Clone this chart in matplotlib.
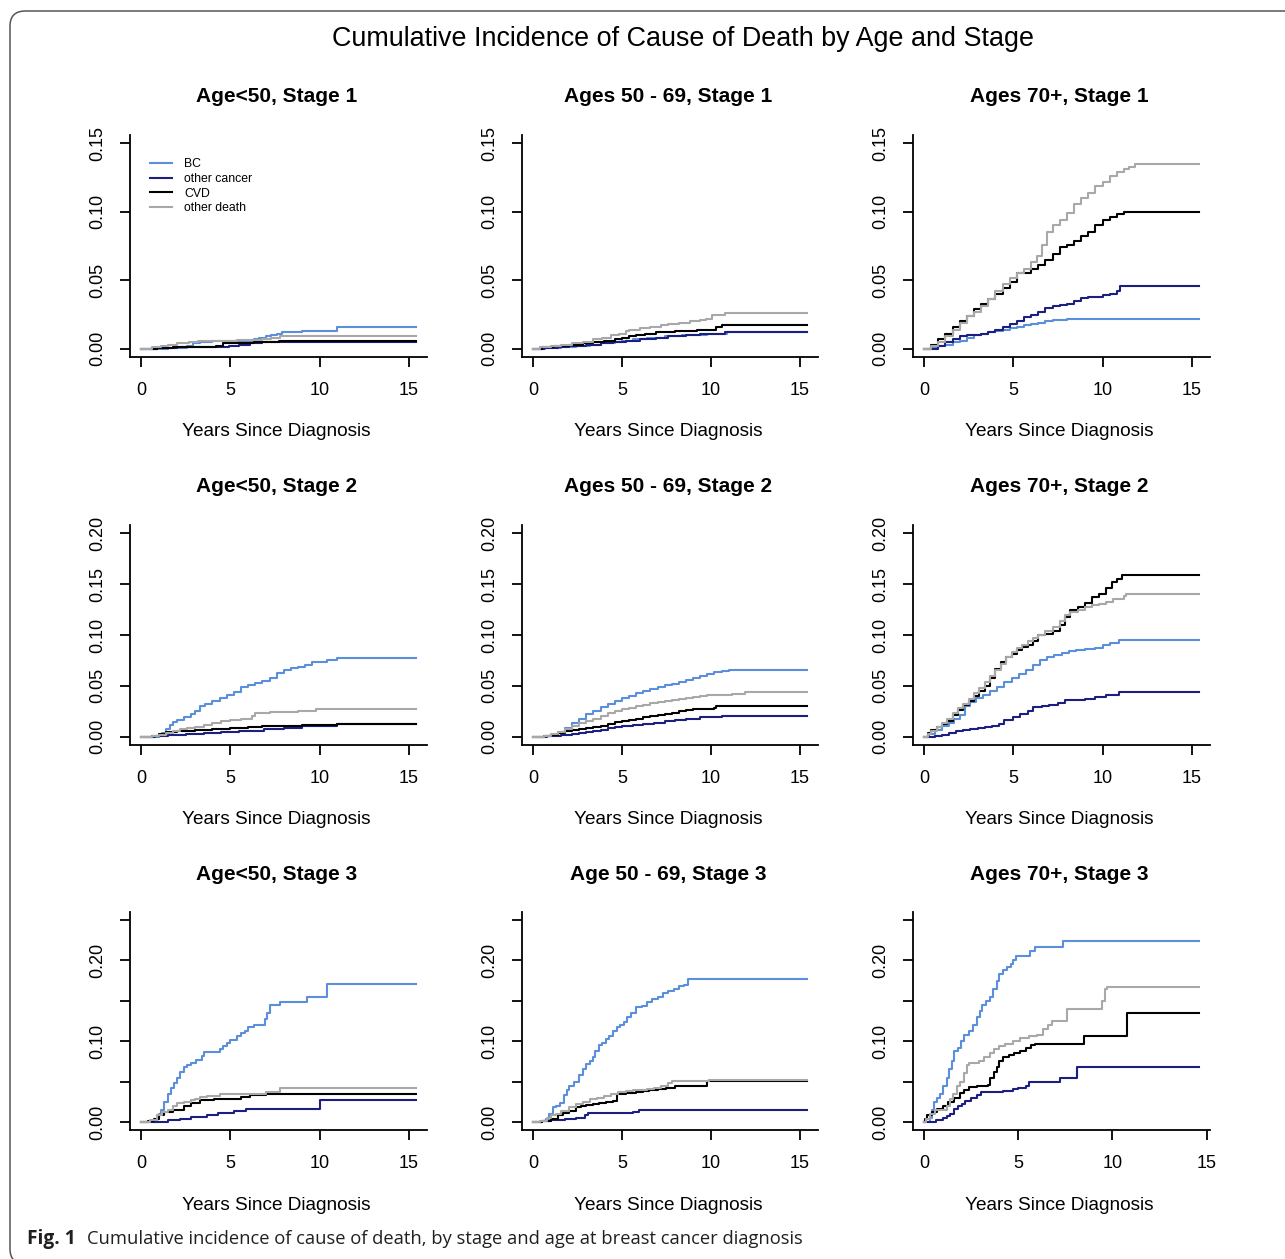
# %%
import matplotlib
matplotlib.use("Agg")
import matplotlib.pyplot as plt
from matplotlib.patches import FancyBboxPatch

# %% data: [years, cumulative incidence] step points
# Age<50, Stage 1
bc_u50_s1 = [[0, 0], [1.5, 0.0005], [2.6, 0.002], [2.9, 0.004], [3.3, 0.005], [4.0, 0.006], [6.3, 0.007],
             [6.6, 0.008], [7.0, 0.009], [7.3, 0.010], [7.6, 0.011], [7.9, 0.012], [9.0, 0.013], [11.0, 0.016]]
oc_u50_s1 = [[0, 0], [0.9, 0.0005], [2.0, 0.001], [4.3, 0.0015], [4.9, 0.002], [5.5, 0.003], [6.1, 0.004], [6.8, 0.005]]
cvd_u50_s1 = [[0, 0], [0.9, 0.0005], [1.8, 0.001], [3.0, 0.0015], [4.2, 0.002], [4.6, 0.004], [5.6, 0.0045],
              [6.3, 0.005], [7.7, 0.0055]]
od_u50_s1 = [[0, 0], [0.6, 0.001], [1.1, 0.002], [1.5, 0.003], [2.0, 0.004], [2.7, 0.005], [3.2, 0.0055],
             [4.7, 0.006], [5.4, 0.0065], [6.8, 0.007], [7.3, 0.008], [7.8, 0.009]]

# Ages 50 - 69, Stage 1
bc_50_s1 = [[0, 0], [0.7, 0.0005], [1.6, 0.001], [2.4, 0.002], [3.2, 0.003], [3.8, 0.004], [4.6, 0.005], [5.0, 0.006],
            [5.6, 0.007], [6.4, 0.008], [7.4, 0.009], [8.4, 0.010], [9.8, 0.011], [10.9, 0.012]]
oc_50_s1 = [[0, 0], [0.6, 0.0005], [1.4, 0.001], [2.0, 0.002], [3.0, 0.003], [3.8, 0.004], [4.5, 0.005], [5.2, 0.006],
            [6.0, 0.007], [6.9, 0.008], [7.6, 0.009], [8.6, 0.010], [9.4, 0.011], [10.8, 0.0125]]
cvd_50_s1 = [[0, 0], [0.5, 0.001], [1.2, 0.002], [2.0, 0.003], [2.8, 0.004], [3.4, 0.005], [4.0, 0.006], [4.6, 0.007],
             [5.0, 0.008], [5.4, 0.009], [5.8, 0.010], [6.3, 0.011], [6.9, 0.012], [8.0, 0.013], [9.2, 0.014],
             [10.3, 0.016], [10.6, 0.017]]
od_50_s1 = [[0, 0], [0.4, 0.001], [1.0, 0.002], [1.6, 0.003], [2.2, 0.004], [2.8, 0.005], [3.4, 0.007], [3.9, 0.008],
            [4.4, 0.010], [4.85, 0.011], [5.2, 0.013], [5.4, 0.014], [6.0, 0.015], [6.6, 0.016], [7.2, 0.017],
            [7.6, 0.018], [8.2, 0.019], [8.8, 0.020], [9.4, 0.021], [9.7, 0.022], [10.05, 0.025], [10.8, 0.026]]

# Ages 70+, Stage 1
bc_70_s1 = [[0, 0], [0.4, 0.001], [0.8, 0.002], [1.2, 0.003], [1.6, 0.005], [2.0, 0.006], [2.4, 0.008], [2.8, 0.010],
            [3.2, 0.011], [3.6, 0.012], [4.0, 0.013], [4.4, 0.014], [4.8, 0.015], [5.2, 0.016], [5.6, 0.017],
            [6.0, 0.018], [6.4, 0.019], [6.8, 0.020], [7.2, 0.021], [8.0, 0.0215], [8.7, 0.022]]
oc_70_s1 = [[0, 0], [0.8, 0.002], [1.2, 0.005], [1.6, 0.007], [2.0, 0.009], [2.4, 0.010], [3.2, 0.011], [3.6, 0.012],
            [4.0, 0.014], [4.4, 0.016], [4.8, 0.018], [5.2, 0.020], [5.6, 0.023], [6.0, 0.025], [6.4, 0.027],
            [6.8, 0.030], [7.2, 0.031], [7.6, 0.032], [8.0, 0.033], [8.4, 0.035], [8.8, 0.037], [9.2, 0.038],
            [10.0, 0.039], [10.4, 0.040], [10.8, 0.042], [10.95, 0.046]]
cvd_70_s1 = [[0, 0], [0.4, 0.003], [0.8, 0.007], [1.2, 0.011], [1.6, 0.016], [2.0, 0.020], [2.4, 0.024], [2.8, 0.029],
             [3.2, 0.033], [3.6, 0.036], [4.0, 0.040], [4.4, 0.044], [4.8, 0.049], [5.2, 0.055], [6.0, 0.058],
             [6.4, 0.061], [6.8, 0.065], [7.2, 0.069], [7.6, 0.074], [8.0, 0.076], [8.4, 0.079], [8.8, 0.082],
             [9.2, 0.085], [9.6, 0.090], [10.0, 0.094], [10.4, 0.096], [10.8, 0.098], [11.2, 0.100]]
od_70_s1 = [[0, 0], [0.4, 0.002], [0.8, 0.005], [1.2, 0.009], [1.6, 0.014], [2.0, 0.019], [2.4, 0.024], [2.8, 0.027],
            [3.2, 0.031], [3.6, 0.036], [4.0, 0.042], [4.4, 0.047], [4.8, 0.052], [5.2, 0.055], [5.6, 0.058],
            [6.0, 0.063], [6.3, 0.068], [6.6, 0.076], [6.9, 0.085], [7.2, 0.090], [7.6, 0.094], [8.0, 0.099],
            [8.4, 0.106], [8.8, 0.110], [9.2, 0.114], [9.6, 0.119], [10.0, 0.122], [10.4, 0.126], [10.8, 0.129],
            [11.2, 0.131], [11.5, 0.133], [11.8, 0.135]]

# Age<50, Stage 2
bc_u50_s2 = [[0, 0], [1.0, 0.001], [1.2, 0.004], [1.4, 0.008], [1.6, 0.012], [1.8, 0.015], [2.0, 0.017], [2.4, 0.019],
             [2.8, 0.022], [3.0, 0.025], [3.3, 0.030], [3.6, 0.032], [4.0, 0.035], [4.4, 0.038], [4.8, 0.041],
             [5.2, 0.044], [5.6, 0.049], [6.0, 0.051], [6.4, 0.053], [6.8, 0.055], [7.2, 0.058], [7.6, 0.063],
             [8.0, 0.066], [8.4, 0.068], [8.8, 0.069], [9.2, 0.071], [9.6, 0.073], [10.4, 0.075], [11.0, 0.077]]
oc_u50_s2 = [[0, 0], [0.8, 0.001], [1.5, 0.002], [2.5, 0.003], [3.5, 0.004], [4.5, 0.005], [5.5, 0.006], [6.9, 0.008],
             [8.0, 0.009], [9.0, 0.011], [11.0, 0.0125]]
cvd_u50_s2 = [[0, 0], [0.6, 0.001], [1.0, 0.003], [1.4, 0.005], [2.0, 0.006], [3.0, 0.007], [4.0, 0.008], [5.0, 0.009],
              [6.0, 0.010], [6.8, 0.011], [9.0, 0.012], [11.0, 0.013]]
od_u50_s2 = [[0, 0], [0.6, 0.001], [1.0, 0.002], [1.4, 0.004], [1.8, 0.006], [2.2, 0.008], [2.6, 0.009], [3.0, 0.010],
             [3.5, 0.012], [4.0, 0.014], [4.5, 0.016], [5.0, 0.017], [5.6, 0.018], [6.2, 0.020], [6.4, 0.023],
             [7.2, 0.024], [8.8, 0.025], [9.8, 0.027]]

# Ages 50 - 69, Stage 2
bc_50_s2 = [[0, 0], [0.6, 0.001], [1.0, 0.002], [1.4, 0.005], [1.8, 0.009], [2.2, 0.014], [2.6, 0.018], [3.0, 0.022],
            [3.4, 0.025], [3.8, 0.029], [4.2, 0.032], [4.6, 0.035], [5.0, 0.038], [5.4, 0.040], [5.8, 0.043],
            [6.2, 0.045], [6.6, 0.047], [7.0, 0.049], [7.4, 0.051], [7.8, 0.052], [8.2, 0.054], [8.6, 0.056],
            [9.0, 0.058], [9.4, 0.060], [9.8, 0.062], [10.2, 0.064], [10.6, 0.065], [11.0, 0.066]]
oc_50_s2 = [[0, 0], [0.8, 0.001], [1.6, 0.002], [2.2, 0.003], [2.6, 0.004], [3.0, 0.005], [3.4, 0.006], [3.8, 0.007],
            [4.2, 0.009], [4.6, 0.010], [5.0, 0.011], [5.6, 0.012], [6.2, 0.013], [6.8, 0.014], [7.4, 0.016],
            [8.0, 0.017], [8.6, 0.018], [9.4, 0.019], [10.6, 0.020]]
cvd_50_s2 = [[0, 0], [0.6, 0.001], [1.0, 0.002], [1.4, 0.004], [1.8, 0.006], [2.2, 0.007], [2.6, 0.008], [3.0, 0.009],
             [3.4, 0.010], [3.8, 0.011], [4.2, 0.013], [4.6, 0.015], [5.0, 0.016], [5.4, 0.017], [5.8, 0.018],
             [6.2, 0.019], [6.6, 0.020], [7.0, 0.021], [7.4, 0.022], [7.8, 0.023], [8.2, 0.025], [8.6, 0.026],
             [9.0, 0.027], [10.2, 0.028], [10.3, 0.030]]
od_50_s2 = [[0, 0], [0.6, 0.001], [1.0, 0.003], [1.4, 0.005], [1.8, 0.008], [2.2, 0.011], [2.6, 0.014], [3.0, 0.016],
            [3.4, 0.018], [3.8, 0.020], [4.2, 0.023], [4.6, 0.025], [5.0, 0.027], [5.4, 0.028], [5.8, 0.030],
            [6.2, 0.031], [6.6, 0.033], [7.0, 0.034], [7.4, 0.035], [7.8, 0.036], [8.2, 0.037], [8.6, 0.038],
            [9.0, 0.039], [9.4, 0.040], [9.8, 0.041], [11.2, 0.042], [11.9, 0.044]]

# Ages 70+, Stage 2
bc_70_s2 = [[0, 0], [0.3, 0.003], [0.6, 0.007], [1.0, 0.011], [1.4, 0.014], [1.7, 0.018], [2.0, 0.021], [2.3, 0.030],
            [2.6, 0.034], [2.9, 0.038], [3.3, 0.041], [3.7, 0.045], [4.1, 0.049], [4.5, 0.054], [4.9, 0.058],
            [5.3, 0.062], [5.7, 0.066], [6.1, 0.071], [6.5, 0.075], [6.9, 0.078], [7.3, 0.080], [7.7, 0.082],
            [8.1, 0.084], [8.5, 0.085], [9.0, 0.086], [9.6, 0.087], [10.0, 0.090], [10.4, 0.092], [10.9, 0.095]]
oc_70_s2 = [[0, 0], [0.6, 0.001], [1.0, 0.002], [1.4, 0.004], [1.8, 0.006], [2.2, 0.007], [2.6, 0.008], [3.0, 0.009],
            [3.4, 0.010], [3.8, 0.011], [4.2, 0.013], [4.5, 0.017], [5.0, 0.019], [5.4, 0.022], [5.8, 0.025],
            [6.1, 0.029], [6.6, 0.030], [7.0, 0.031], [7.5, 0.033], [7.9, 0.036], [9.0, 0.037], [9.6, 0.039],
            [10.2, 0.041], [10.9, 0.044]]
cvd_70_s2 = [[0, 0], [0.2, 0.004], [0.4, 0.007], [0.7, 0.010], [1.0, 0.013], [1.3, 0.016], [1.6, 0.021], [1.9, 0.026],
             [2.2, 0.031], [2.5, 0.035], [2.8, 0.040], [3.1, 0.045], [3.4, 0.050], [3.7, 0.058], [4.0, 0.067],
             [4.3, 0.073], [4.6, 0.078], [4.9, 0.081], [5.2, 0.085], [5.5, 0.088], [5.8, 0.090], [6.1, 0.094],
             [6.4, 0.100], [6.8, 0.101], [7.2, 0.104], [7.6, 0.110], [7.9, 0.118], [8.2, 0.125], [8.6, 0.127],
             [9.0, 0.131], [9.4, 0.137], [9.8, 0.140], [10.2, 0.146], [10.5, 0.152], [10.8, 0.155], [11.1, 0.159]]
od_70_s2 = [[0, 0], [0.2, 0.003], [0.4, 0.006], [0.7, 0.010], [1.0, 0.014], [1.3, 0.018], [1.6, 0.023], [1.9, 0.028],
            [2.2, 0.032], [2.5, 0.037], [2.8, 0.043], [3.1, 0.048], [3.4, 0.054], [3.7, 0.060], [4.0, 0.066],
            [4.3, 0.072], [4.6, 0.078], [4.9, 0.083], [5.2, 0.087], [5.5, 0.090], [5.8, 0.094], [6.1, 0.097],
            [6.4, 0.100], [6.8, 0.104], [7.2, 0.108], [7.6, 0.114], [7.9, 0.120], [8.2, 0.123], [8.6, 0.125],
            [9.0, 0.127], [9.4, 0.129], [9.8, 0.130], [10.2, 0.132], [10.6, 0.135], [11.2, 0.138], [11.3, 0.140]]

# Age<50, Stage 3
bc_u50_s3 = [[0, 0], [0.9, 0.004], [1.0, 0.010], [1.1, 0.015], [1.3, 0.025], [1.5, 0.035], [1.7, 0.042], [1.85, 0.048],
             [2.0, 0.055], [2.2, 0.062], [2.4, 0.068], [2.6, 0.071], [2.8, 0.073], [3.1, 0.077], [3.4, 0.082],
             [3.5, 0.086], [4.4, 0.090], [4.6, 0.094], [4.8, 0.098], [5.0, 0.102], [5.4, 0.106], [5.6, 0.110],
             [5.8, 0.113], [6.0, 0.117], [6.3, 0.120], [6.95, 0.128], [7.05, 0.135], [7.2, 0.145], [7.8, 0.149],
             [9.3, 0.155], [10.4, 0.171]]
oc_u50_s3 = [[0, 0], [0.6, 0.0005], [1.5, 0.002], [2.2, 0.004], [2.8, 0.006], [3.7, 0.008], [4.3, 0.011],
             [5.2, 0.013], [5.9, 0.016], [10.0, 0.027]]
cvd_u50_s3 = [[0, 0], [0.4, 0.001], [0.7, 0.004], [1.0, 0.008], [1.3, 0.012], [1.8, 0.015], [2.4, 0.020], [2.8, 0.024],
              [3.3, 0.027], [4.1, 0.028], [4.8, 0.029], [5.6, 0.031], [6.1, 0.033], [7.0, 0.034]]
od_u50_s3 = [[0, 0], [0.5, 0.002], [0.9, 0.008], [1.2, 0.012], [1.5, 0.015], [1.8, 0.020], [2.0, 0.023], [2.4, 0.025],
             [2.8, 0.027], [3.0, 0.029], [3.3, 0.031], [3.7, 0.032], [4.4, 0.034], [6.0, 0.035], [7.0, 0.037],
             [7.8, 0.042]]

# Age 50 - 69, Stage 3
bc_50_s3 = [[0, 0], [0.5, 0.001], [0.75, 0.004], [0.9, 0.010], [1.1, 0.018], [1.3, 0.020], [1.5, 0.024], [1.75, 0.033],
            [1.9, 0.040], [2.05, 0.045], [2.3, 0.050], [2.6, 0.058], [2.8, 0.065], [3.0, 0.072], [3.2, 0.076],
            [3.35, 0.081], [3.5, 0.088], [3.7, 0.095], [3.9, 0.098], [4.1, 0.103], [4.3, 0.107], [4.5, 0.113],
            [4.7, 0.117], [4.9, 0.120], [5.1, 0.124], [5.3, 0.130], [5.5, 0.135], [5.8, 0.142], [6.1, 0.144],
            [6.4, 0.148], [6.7, 0.152], [7.0, 0.155], [7.3, 0.160], [7.6, 0.162], [7.9, 0.165], [8.2, 0.168],
            [8.5, 0.170], [8.7, 0.177]]
oc_50_s3 = [[0, 0], [0.5, 0.001], [1.0, 0.003], [1.8, 0.004], [2.4, 0.005], [2.9, 0.008], [3.1, 0.011], [5.6, 0.012],
            [5.95, 0.015]]
cvd_50_s3 = [[0, 0], [0.5, 0.001], [1.0, 0.004], [1.4, 0.008], [1.7, 0.011], [2.0, 0.014], [2.4, 0.018], [2.7, 0.020],
             [3.0, 0.021], [3.4, 0.022], [3.7, 0.024], [4.1, 0.025], [4.5, 0.026], [4.75, 0.035], [5.2, 0.036],
             [5.8, 0.037], [6.2, 0.038], [6.5, 0.040], [7.0, 0.041], [7.5, 0.042], [8.0, 0.044], [9.8, 0.051]]
od_50_s3 = [[0, 0], [0.4, 0.001], [0.8, 0.005], [1.0, 0.008], [1.3, 0.010], [1.6, 0.014], [2.0, 0.018], [2.4, 0.022],
            [2.8, 0.025], [3.2, 0.028], [3.6, 0.030], [4.0, 0.032], [4.4, 0.035], [4.8, 0.037], [5.2, 0.038],
            [5.6, 0.039], [6.0, 0.040], [6.4, 0.041], [6.8, 0.042], [7.2, 0.045], [7.6, 0.048], [7.8, 0.051],
            [9.9, 0.052]]

# Ages 70+, Stage 3
bc_70_s3 = [[0, 0], [0.3, 0.005], [0.45, 0.015], [0.55, 0.025], [0.7, 0.030], [0.85, 0.035], [1.0, 0.045],
            [1.2, 0.055], [1.35, 0.065], [1.5, 0.075], [1.6, 0.088], [1.8, 0.092], [1.95, 0.100], [2.15, 0.108],
            [2.4, 0.112], [2.6, 0.120], [2.8, 0.130], [2.95, 0.138], [3.1, 0.145], [3.3, 0.150], [3.5, 0.155],
            [3.65, 0.165], [3.85, 0.175], [4.0, 0.183], [4.2, 0.188], [4.4, 0.192], [4.6, 0.195], [4.75, 0.200],
            [4.9, 0.205], [5.65, 0.212], [5.9, 0.217], [7.4, 0.224]]
oc_70_s3 = [[0, 0], [0.65, 0.003], [1.0, 0.005], [1.2, 0.007], [1.4, 0.010], [1.6, 0.016], [1.8, 0.020], [2.0, 0.022],
            [2.2, 0.026], [2.5, 0.030], [2.8, 0.033], [3.0, 0.037], [4.2, 0.038], [4.7, 0.041], [5.0, 0.042],
            [5.4, 0.044], [5.6, 0.050], [7.2, 0.054], [8.1, 0.068]]
cvd_70_s3 = [[0, 0], [0.05, 0.004], [0.15, 0.008], [0.4, 0.012], [0.7, 0.016], [1.0, 0.020], [1.3, 0.025],
             [1.6, 0.030], [1.9, 0.036], [2.1, 0.040], [2.4, 0.043], [2.8, 0.045], [3.4, 0.046], [3.5, 0.055],
             [3.7, 0.062], [3.85, 0.068], [4.0, 0.075], [4.2, 0.080], [4.5, 0.083], [4.8, 0.085], [5.1, 0.088],
             [5.4, 0.091], [5.7, 0.095], [5.9, 0.097], [8.5, 0.106], [10.8, 0.135]]
od_70_s3 = [[0, 0], [0.1, 0.004], [0.3, 0.010], [0.6, 0.015], [1.2, 0.020], [1.4, 0.028], [1.55, 0.035],
            [1.75, 0.045], [1.9, 0.050], [2.1, 0.060], [2.3, 0.070], [2.4, 0.073], [2.9, 0.076], [3.2, 0.080],
            [3.5, 0.085], [3.7, 0.090], [4.0, 0.094], [4.3, 0.096], [4.7, 0.100], [5.1, 0.104], [5.6, 0.106],
            [6.0, 0.108], [6.3, 0.115], [6.6, 0.120], [6.8, 0.125], [7.6, 0.140], [9.45, 0.150], [9.6, 0.165],
            [9.7, 0.167]]

panel_titles = ["Age<50, Stage 1", "Ages 50 - 69, Stage 1", "Ages 70+, Stage 1",
                "Age<50, Stage 2", "Ages 50 - 69, Stage 2", "Ages 70+, Stage 2",
                "Age<50, Stage 3", "Age 50 - 69, Stage 3", "Ages 70+, Stage 3"]
panel_series = [[bc_u50_s1, oc_u50_s1, cvd_u50_s1, od_u50_s1],
                [bc_50_s1, oc_50_s1, cvd_50_s1, od_50_s1],
                [bc_70_s1, oc_70_s1, cvd_70_s1, od_70_s1],
                [bc_u50_s2, oc_u50_s2, cvd_u50_s2, od_u50_s2],
                [bc_50_s2, oc_50_s2, cvd_50_s2, od_50_s2],
                [bc_70_s2, oc_70_s2, cvd_70_s2, od_70_s2],
                [bc_u50_s3, oc_u50_s3, cvd_u50_s3, od_u50_s3],
                [bc_50_s3, oc_50_s3, cvd_50_s3, od_50_s3],
                [bc_70_s3, oc_70_s3, cvd_70_s3, od_70_s3]]
followup_end = [15.4, 15.4, 15.4, 15.4, 15.4, 15.4, 15.4, 15.4, 14.6]
row_ymax = [0.15, 0.20, 0.25]
series_names = ["BC", "other cancer", "CVD", "other death"]
series_colors = ["#5b8fdb", "#1b1f7f", "#000000", "#a8a8a8"]
xticks = [0, 5, 10, 15]

# %% layout (pixels)
W, H = 1285, 1259
col_lr = [(130, 427), (522, 818), (913, 1210)]
row_tb = [(135, 357), (525, 745), (912, 1130)]
FONT = "Liberation Sans"


def fx(x):
    return x / W


def fy(y):
    return 1 - y / H


fig = plt.figure(figsize=(W / 100, H / 100), dpi=100)
fig.patches.append(FancyBboxPatch((fx(10), fy(1264)), fx(1310 - 10), (1264 - 11) / H,
                                  boxstyle="round,pad=0,rounding_size=0.012",
                                  transform=fig.transFigure, facecolor="white",
                                  edgecolor="#555555", linewidth=1.1, zorder=-5))

fig.text(fx(683), fy(39), "Cumulative Incidence of Cause of Death by Age and Stage",
         ha="center", va="center", fontsize=19.4, family=FONT)

for i in range(9):
    r, c = divmod(i, 3)
    l, rr = col_lr[c]
    t, b = row_tb[r]
    ax = fig.add_axes([fx(l), fy(b), (rr - l) / W, (b - t) / H])
    end = followup_end[i]
    for pts, name, col in zip(panel_series[i], series_names, series_colors):
        xs = [p[0] for p in pts] + [end]
        ys = [p[1] for p in pts] + [pts[-1][1]]
        ax.step(xs, ys, where="post", color=col, lw=1.5, label=name)
    pad_x = 0.04 * end
    ax.set_xlim(-pad_x, end + pad_x)
    ymax = row_ymax[r]
    ax.set_ylim(-0.04 * ymax, ymax * 1.04)
    ax.set_xticks(xticks)
    yt = [k * 0.05 for k in range(int(round(ymax / 0.05)) + 1)]
    ax.set_yticks(yt)
    if r == 2:
        ax.set_yticklabels(["%.2f" % v if k % 2 == 0 else "" for k, v in enumerate(yt)])
    else:
        ax.set_yticklabels(["%.2f" % v for v in yt])
    for s in ["top", "right"]:
        ax.spines[s].set_visible(False)
    for s in ["left", "bottom"]:
        ax.spines[s].set_linewidth(1.3)
    ax.tick_params(axis="both", direction="out", length=7, width=1.3, labelsize=13)
    ax.tick_params(axis="x", pad=11)
    ax.tick_params(axis="y", pad=10)
    for lab in ax.get_yticklabels():
        lab.set_rotation(90)
        lab.set_va("center")
        lab.set_family(FONT)
    for lab in ax.get_xticklabels():
        lab.set_family(FONT)

    cx = (l + rr) / 2
    fig.text(fx(cx - 2), fy(t - 38), panel_titles[i], ha="center", va="center",
             fontsize=15, fontweight="bold", family=FONT)
    fig.text(fx(cx - 2), fy(b + 75), "Years Since Diagnosis", ha="center", va="center",
             fontsize=13.7, family=FONT)

    if i == 0:
        ax.legend(loc="upper left", bbox_to_anchor=(0.066, 0.895), frameon=False,
                  prop={"family": FONT, "size": 8.8}, handlelength=1.85,
                  handletextpad=1.0, labelspacing=0.22, borderpad=0, borderaxespad=0)

fig.text(fx(27), fy(1239), "Fig. 1", ha="left", va="center", fontsize=13.8,
         fontweight="bold", family="Open Sans", color="#231f20")
fig.text(fx(87), fy(1239), "Cumulative incidence of cause of death, by stage and age at breast cancer diagnosis",
         ha="left", va="center", fontsize=13.2, family="Open Sans", color="#231f20")

fig.savefig("out.png", dpi=100)
